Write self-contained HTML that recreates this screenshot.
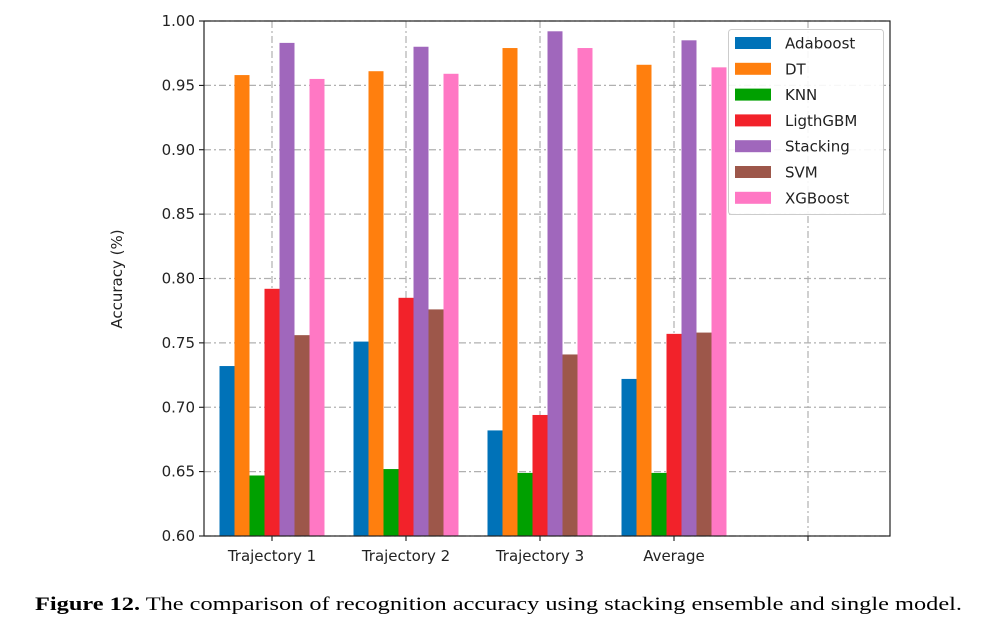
<!DOCTYPE html>
<html><head><meta charset="utf-8"><style>
html,body{margin:0;padding:0;background:#fff;width:984px;height:628px;overflow:hidden}
svg text{font-family:"DejaVu Sans","Liberation Sans",sans-serif}
</style></head><body>
<svg id="chart" width="984" height="628" xmlns="http://www.w3.org/2000/svg"></svg>
<script>
const categories=["Trajectory 1","Trajectory 2","Trajectory 3","Average",""];
const seriesNames=["Adaboost","DT","KNN","LigthGBM","Stacking","SVM","XGBoost"];
const colors=["#0072b8","#ff7f0e","#00a000","#f2222a","#a067bc","#9d574a","#ff78c4"];
const adaboost=[0.732,0.751,0.682,0.722];
const dt=[0.958,0.961,0.979,0.966];
const knn=[0.647,0.652,0.649,0.649];
const lgbm=[0.792,0.785,0.694,0.757];
const stacking=[0.983,0.980,0.992,0.985];
const svm=[0.756,0.776,0.741,0.758];
const xgboost=[0.955,0.959,0.979,0.964];
const series=[adaboost,dt,knn,lgbm,stacking,svm,xgboost];
const yTicks=["0.60","0.65","0.70","0.75","0.80","0.85","0.90","0.95","1.00"];

const NS="http://www.w3.org/2000/svg";
const svg=document.getElementById('chart');
const L=204,R=890,T=21,B=536;
const yMin=0.6,yMax=1.0;
const y=v=>B-(v-yMin)/(yMax-yMin)*(B-T);
const x=i=>272+i*134;
const bw=15;
function el(t,a,p){const e=document.createElementNS(NS,t);for(const k in a)e.setAttribute(k,a[k]);(p||svg).appendChild(e);return e;}

yTicks.forEach(t=>{
  const yy=y(parseFloat(t));
  const g=el('line',{x1:L,x2:R,y1:yy,y2:yy,stroke:'#b0b0b0','stroke-width':1.2,'stroke-dasharray':'7,3,2,3'});
  
  
  const tk=el('line',{x1:L-5,x2:L,y1:yy,y2:yy,stroke:'#000','stroke-width':1});
  
  
  const tx=el('text',{x:L-9,y:yy+5,'text-anchor':'end','font-size':15,fill:'#222'});
  tx.textContent=t;
  
  
});
categories.forEach((c,i)=>{
  const xx=x(i);
  const g=el('line',{x1:xx,x2:xx,y1:T,y2:B,stroke:'#b0b0b0','stroke-width':1.2,'stroke-dasharray':'7,3,2,3'});
  
  
});
series.forEach((s,si)=>{
  s.forEach((v,ci)=>{
    const bx=x(ci)-3.5*bw+si*bw;
    const r=el('rect',{x:bx,y:y(v),width:bw,height:B-y(v),fill:colors[si]});
    
    
  });
});
categories.forEach((c,i)=>{
  const xx=x(i);
  const tk=el('line',{x1:xx,x2:xx,y1:B,y2:B+5,stroke:'#000','stroke-width':1});
  
  
  if(c){
    const tx=el('text',{x:xx,y:B+25,'text-anchor':'middle','font-size':15,fill:'#222'});
    tx.textContent=c;
    
    
  }
});
const frame=el('rect',{x:L,y:T,width:R-L,height:B-T,fill:'none',stroke:'#222','stroke-width':1.2});


const yt=el('text',{x:0,y:0,transform:'translate(122,279) rotate(-90)','text-anchor':'middle','font-size':15,fill:'#222'});
yt.textContent='Accuracy (%)';


const lg=el('g',{});


el('rect',{x:728.5,y:29.5,width:155,height:185,rx:3,fill:'#fff','fill-opacity':0.9,stroke:'#ccc'},lg);
seriesNames.forEach((n,i)=>{
  const yy=43+i*25.8;
  const g=el('g',{},lg);
  
  
  el('rect',{x:735,y:yy-6,width:36,height:12,fill:colors[i]},g);
  const t=el('text',{x:785,y:yy+5.5,'font-size':15,fill:'#222'},g);
  t.textContent=n;
});
const cap=el('text',{x:35,y:610,'font-size':19,fill:'#000',textLength:927,lengthAdjust:'spacingAndGlyphs',style:'font-family:"Liberation Serif",serif'});


const b=el('tspan',{'font-weight':'bold'},cap);b.textContent='Figure 12.';
const r=el('tspan',{},cap);r.textContent=' The comparison of recognition accuracy using stacking ensemble and single model.';
</script>
</body></html>
